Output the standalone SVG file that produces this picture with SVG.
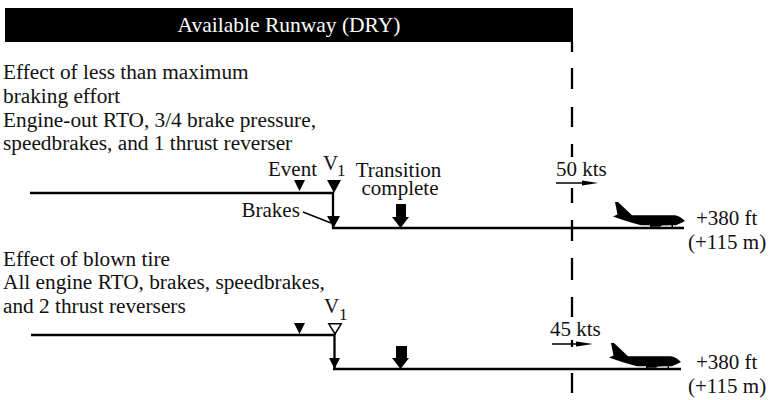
<svg xmlns="http://www.w3.org/2000/svg" width="769" height="400" viewBox="0 0 769 400">
<style>
text{font-family:"Liberation Serif","Times New Roman",serif;font-size:21px;fill:#111}
.m{text-anchor:middle}
.s{font-size:17px}
.b{font-size:21.300px}
.l{stroke:#000;stroke-width:2.300;fill:none}
.t{stroke:#000;stroke-width:1.500;fill:none}
.f{fill:#000}
</style>
<defs>
<path id="plane" d="M0 0L3 0L17 13.300L60 13.300C64 14 67 16 70 19L66 21L61 23.300L58 23.300V26.500H56.500V23.300L47 23.500L45 24.800L37 24.800L35 23.500H36.500V26.500H35V23.300L26 23.300C16 20.500 8 18 -2 14.500L2.500 12.500Z"/>
</defs>
<rect width="769" height="400" fill="#fff"/>
<g id="runway-bar">
<rect x="5" y="8" width="568" height="34" class="f"/>
<text x="289" y="32" class="m" style="fill:#fff;font-size:21.500px">Available Runway (DRY)</text>
</g>
<g id="connectors">
<path class="l" d="M572 42V52M572 68V89M572 107V127M572 144V157M572 188V203M572 220V241M572 258V280M572 297V317M572 340V347M572 373V393"/>
<path class="l" d="M30 193H333V228M332 228H684"/>
<path class="l" d="M31 335H334.500V369M333 369H681"/>
<path class="t" d="M303 212L331 223"/>
<path class="t" d="M556 183H584"/>
<path class="t" d="M552 344H580"/>
<path class="f" d="M582 180.500L598 183L582 185.500Z"/>
<path class="f" d="M576 341.500L593 344L576 346.500Z"/>
</g>
<g id="case1-text">
<text x="3" y="79" class="b">Effect of less than maximum</text>
<text x="3" y="102.700" class="b">braking effort</text>
<text x="3" y="126.500" class="b">Engine-out RTO, 3/4 brake pressure,</text>
<text x="3" y="150" class="b">speedbrakes, and 1 thrust reverser</text>
</g>
<g id="case1-event">
<text x="268" y="176">Event</text>
<path class="f" d="M294 180H305L299.500 191Z"/>
</g>
<g id="case1-v1">
<text x="323" y="170">V</text>
<text x="337" y="176" class="s">1</text>
<path class="f" d="M327 180H341L334 193Z"/>
<path class="f" d="M327 216H340L333.500 228Z"/>
</g>
<g id="case1-brakes">
<text x="241.500" y="217">Brakes</text>
</g>
<g id="case1-transition">
<text x="398.500" y="177" class="m">Transition</text>
<text x="400" y="195" class="m">complete</text>
<path class="f" d="M396 204H406V217H409L400.500 228L392 217H396Z"/>
</g>
<g id="case1-speed"><text x="556" y="176">50 kts</text></g>
<g id="case1-plane">
<use href="#plane" x="615" y="202"/>
<text x="696" y="225">+380 ft</text>
<text x="688" y="249">(+115 m)</text>
</g>
<g id="case2-text">
<text x="3" y="265.700" class="b">Effect of blown tire</text>
<text x="3" y="289" class="b">All engine RTO, brakes, speedbrakes,</text>
<text x="3" y="312.700" class="b">and 2 thrust reversers</text>
</g>
<g id="case2-event"><path class="f" d="M294 323H305L299.500 334Z"/></g>
<g id="case2-v1">
<text x="324" y="313">V</text>
<text x="339" y="320" class="s">1</text>
<path d="M328.800 323.800H341.200L335 334Z" fill="#fff" stroke="#000" stroke-width="1.500"/>
<path class="f" d="M329 358H340L334.500 369Z"/>
</g>
<g id="case2-transition"><path class="f" d="M396 346H407V358H409L400.500 369L392 358H396Z"/></g>
<g id="case2-speed"><text x="550" y="336">45 kts</text></g>
<g id="case2-plane">
<use href="#plane" x="611" y="343"/>
<text x="696" y="369">+380 ft</text>
<text x="688" y="393">(+115 m)</text>
</g>
</svg>
